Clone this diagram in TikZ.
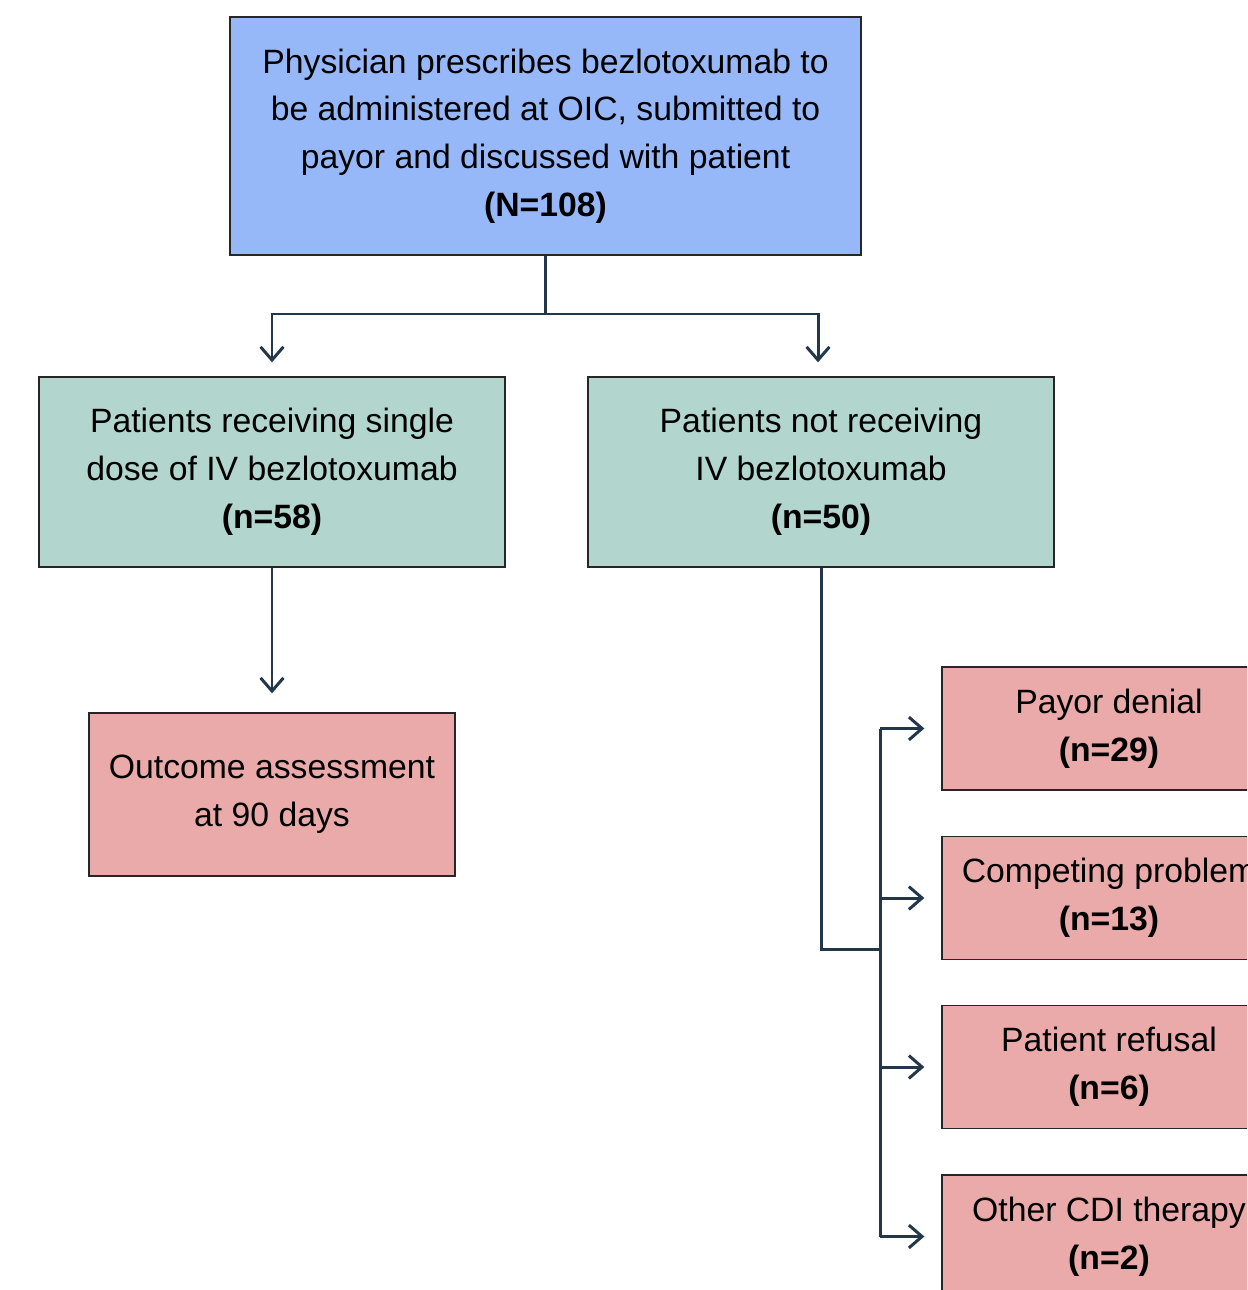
\documentclass[tikz,border=0pt]{standalone}
\usepackage{fontspec}
\setmainfont{Liberation Sans}
\usetikzlibrary{arrows.meta}
\definecolor{topblue}{HTML}{97B8F8}
\definecolor{midgreen}{HTML}{B2D5CE}
\definecolor{endred}{HTML}{EBAAAA}
\definecolor{linenavy}{HTML}{23374A}
\tikzset{
  box/.style={draw=black!85, line width=0.8pt, inner sep=0pt, align=center,
    font=\fontsize{19.2}{27.2}\selectfont},
  link/.style={draw=linenavy, line width=1.7pt},
  arr/.style={link, -{Straight Barb[length=7.5pt,width=13pt]}},
}
\begin{document}
\begin{tikzpicture}[x=0.02cm, y=-0.02cm]
            \useasboundingbox (0,0) rectangle (1247,1290);
            \clip (0,0) rectangle (1247,1290);

            \node[box, fill=topblue, minimum width=12.62cm, minimum height=4.76cm] (top) at (545.5,136)
              {Physician prescribes bezlotoxumab to\\be administered at OIC, submitted to\\payor and discussed with patient\\\textbf{(N=108)}};
            \node[box, fill=midgreen, minimum width=9.32cm, minimum height=3.8cm] (given) at (272,472)
              {Patients receiving single\\dose of IV bezlotoxumab\\\textbf{(n=58)}};
            \node[box, fill=midgreen, minimum width=9.32cm, minimum height=3.8cm] (notgiven) at (821,472)
              {Patients not receiving\\IV bezlotoxumab\\\textbf{(n=50)}};
            \node[box, fill=endred, minimum width=7.32cm, minimum height=3.26cm] (outcome) at (272,794.5)
              {Outcome assessment\\at 90 days};

            \node[box, fill=endred, minimum width=6.68cm, minimum height=2.46cm] (payor) at (1109,728.5)
              {Payor denial\\\textbf{(n=29)}};
            \node[box, fill=endred, minimum width=6.68cm, minimum height=2.46cm] (competing) at (1109,898)
              {Competing problem\\\textbf{(n=13)}};
            \node[box, fill=endred, minimum width=6.68cm, minimum height=2.46cm] (refusal) at (1109,1067)
              {Patient refusal\\\textbf{(n=6)}};
            \node[box, fill=endred, minimum width=6.68cm, minimum height=2.46cm] (other) at (1109,1236.5)
              {Other CDI therapy\\\textbf{(n=2)}};

            % split below the first box
            \coordinate (split) at (545.5,314);
            \draw[link] (top.south) -- (split);
            \draw[arr, shorten >=0.28cm] (split) -| (given.north);
            \draw[arr, shorten >=0.28cm] (split) -| ([xshift=-0.06cm]notgiven.north);
            \draw[arr, shorten >=0.38cm] (given.south) -- (outcome.north);

            % reasons for not receiving
            \coordinate (bus) at (880,949);
            \draw[link] (notgiven.south) |- (bus);
            \draw[link] (bus |- payor.west) -- (bus |- other.west);
            \foreach \why in {payor, competing, refusal, other}
              \draw[arr, shorten >=0.34cm] (bus |- \why.west) -- (\why.west);
        \end{tikzpicture}
\end{document}
